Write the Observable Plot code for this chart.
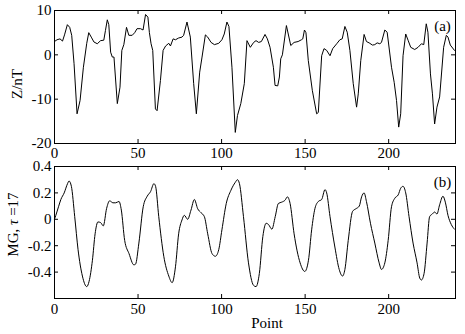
<!DOCTYPE html>
<html><head><meta charset="utf-8">
<script src="https://cdn.jsdelivr.net/npm/d3@7"></script>
<script src="https://cdn.jsdelivr.net/npm/@observablehq/plot@0.6"></script>
<style>
body{margin:0;background:#fff;}
#chart{position:relative;width:465px;height:334px;background:#fff;}
#chart svg{position:absolute;left:0;}
</style></head><body><div id="chart"></div>
<script>
const xTicks = [0, 50, 100, 150, 200];
const zTicks = [-20, -10, 0, 10];
const mgTicks = [-0.4, -0.2, 0, 0.2, 0.4];

const zPoint = [0,1.5,3.3,4.8,6,7.7,9.1,10.3,11.7,13.5,15.3,17.3,19.3,20.5,22,23.6,25.6,27.6,29.5,30.5,31.6,32.5,33.6,34.6,35.6,37.6,39.2,40.3,41.5,43.1,44.5,46.5,48,49.4,51.5,53,54.5,55.9,56.8,57.8,58.8,60.4,61.4,63.4,65,66.5,68.4,69.4,71,72.4,74.3,76.3,77.3,79.3,81.3,83.3,84.9,86.9,88.3,90.3,91.7,93.7,95.7,98.3,100.2,101.6,103.2,104.4,106.2,108.2,109.5,111.5,113.6,115.2,117.2,119.2,120.6,122.2,123.8,126,127.4,129,131,132,133.6,134.6,135.4,136.4,138.8,141.4,143.4,145.8,147.8,148.6,149.6,150.5,151.9,154.3,156.9,157.9,159.9,161.3,162.9,164.9,166.5,168.9,170.8,172.2,173.8,175.2,176.8,178.8,180.8,181.8,183.3,185.3,186.7,188.3,190.3,191.7,193.1,194.7,195.7,197.7,199.1,201.7,203.3,204.7,206,207.2,208.6,210.2,211.6,213.2,215.6,217.6,219.6,221,222.5,223.5,225,226.2,227.5,228.9,230.5,232.9,234.5,235.5,236.9,239.4];
const zValue = [3.0,3.4,3.6,3.1,4.5,6.8,6.2,4.4,-2,-13.3,-10.3,-2.8,2.6,5.0,4.0,2.9,2.5,3.2,3.3,5.5,7.9,6.8,0.6,-0.5,-0.5,-11,-7.3,1,2.3,6.2,4.4,4.4,5,5.9,5.9,5.6,9.1,8.5,5,2.5,1,-12.2,-12.6,-5.8,1,2,2.6,2,3.6,3.4,3.8,4,4.4,7.4,4,-6.5,-13.3,-3.9,-0.5,4.5,4,2.8,2.3,2.6,3.4,4.7,7.4,6.4,-2.8,-17.5,-13.7,-11,-6.5,3.2,1.7,2.8,3.2,2.8,3,4.6,3.6,1.7,-2.8,-6.9,-7,-5,-0.9,0,6.6,2.1,2.8,3,3.4,3.6,5.6,5.0,-1.3,-8,-13.3,-13,-0.2,1.4,1,-0.2,1.4,2.5,3.4,3.6,6.4,5.1,1,-6.5,-11.8,-8.8,-1.3,4.6,3,2.7,2.2,2.3,2.7,2.5,2.8,5.6,5.1,-2.8,-6.2,-10.3,-16.3,-13.3,-0.2,4.7,3.3,1.7,1.2,1.7,2.5,2.3,7,5.1,-4.3,-8.8,-15.6,-11.8,-9.5,1.7,4.4,4,2.2,1];

const mgPoint = [0,0.8,2.4,3.8,5.8,7.8,8.7,10.1,12.1,14.1,16.7,19.3,20.7,22.7,24.3,26,27.6,29.2,31.2,33,35,36.6,38.6,40,42,44.6,47.5,48.5,50.5,53.1,55.5,57.5,59.5,60.5,62.4,65.4,68.4,70.4,72.4,74.3,76.3,77.7,79.7,81.7,83.7,85.7,87.7,89.7,91.7,94.3,96.3,98.3,100.2,102.8,105.6,108.2,109.5,110.7,113.1,116.1,119.1,120.6,122.6,124.7,126.7,128.1,130.1,132.1,134,136,138,139.4,141,143.4,147,149.8,152,153.9,155.9,157.9,159.9,161.9,162.9,164.9,167.8,170.4,172.4,173.8,175.8,178.4,180.4,182.4,183.8,185.3,186.7,189.1,191.7,194.3,195.7,197.7,199.7,201.7,203.7,205.7,207.2,208.6,210.2,212.2,214.6,217,218.6,219.6,221.2,223,224.5,226.1,227.5,228.9,230.5,232.5,233.9,235.5,237.5,239.4];
const mgValue = [0.0,0.03,0.095,0.15,0.2,0.27,0.29,0.25,0.02,-0.23,-0.43,-0.51,-0.47,-0.31,-0.11,-0.02,-0.025,-0.05,0.083,0.14,0.125,0.125,0.135,0.07,-0.16,-0.26,-0.345,-0.34,-0.18,0.095,0.175,0.21,0.27,0.25,0.02,-0.28,-0.43,-0.48,-0.36,-0.11,-0.005,0.03,0.0,0.07,0.15,0.08,0.05,0.02,-0.11,-0.26,-0.28,-0.23,-0.08,0.12,0.22,0.28,0.3,0.27,0.02,-0.33,-0.5,-0.51,-0.41,-0.13,-0.03,-0.04,-0.075,0.02,0.12,0.13,0.145,0.17,0.12,-0.11,-0.33,-0.395,-0.31,-0.08,0.083,0.135,0.15,0.225,0.2,0.02,-0.21,-0.38,-0.43,-0.38,-0.16,0.06,0.08,0.1,0.17,0.2,0.135,-0.03,-0.18,-0.33,-0.38,-0.33,-0.16,0.095,0.16,0.185,0.235,0.25,0.2,0.02,-0.18,-0.33,-0.445,-0.46,-0.41,-0.18,0.02,0.04,0.055,0.04,0.11,0.175,0.13,0.03,-0.04,-0.075];

const zData = zPoint.map((t, i) => ({t, v: zValue[i]}));
const mgData = mgPoint.map((t, i) => ({t, v: mgValue[i]}));

const FONT = '"Liberation Serif", "Times New Roman", serif';

function panel(o) {
  const W = 465, ml = 54, mr = 10;
  const fw = W - ml - mr, fh = o.height - o.marginTop - o.marginBottom;
  const tl = 4;
  const marks = [
    Plot.line(o.data, {x: "t", y: "v", stroke: "#000", strokeWidth: 1, curve: o.curve}),
    Plot.frame({stroke: "#000", strokeWidth: 1}),
    Plot.tickX(xTicks, {x: d => d, insetTop: fh - tl, stroke: "#000"}),
    Plot.tickX(xTicks, {x: d => d, insetBottom: fh - tl, stroke: "#000"}),
    Plot.tickY(o.yTicks, {y: d => d, insetRight: fw - tl, stroke: "#000"}),
    Plot.tickY(o.yTicks, {y: d => d, insetLeft: fw - tl, stroke: "#000"}),
    Plot.axisX(xTicks, {tickSize: 0, tickPadding: o.xPad, tickFormat: d => String(d), label: null}),
    Plot.axisY(o.yTicks, {tickSize: 0, tickPadding: 3, tickFormat: d => String(d), label: null}),
    Plot.text([o.yLabel], {text: d => d, frameAnchor: "left", dx: o.ylDx, dy: o.ylDy, rotate: -90, textAnchor: "middle", lineAnchor: "middle", fill: "#000"}),
    Plot.text([o.tag], {text: d => d, frameAnchor: "top-right", dx: -13, dy: 16, textAnchor: "middle", lineAnchor: "middle", fill: "#000"})
  ];
  if (o.xLabel) marks.push(Plot.text([o.xLabel], {text: d => d, frameAnchor: "bottom", dx: 12, dy: 25, textAnchor: "middle", lineAnchor: "middle", fill: "#000"}));
  return Plot.plot({
    width: W, height: o.height, marginLeft: ml, marginRight: mr, marginTop: o.marginTop, marginBottom: o.marginBottom,
    style: {fontFamily: FONT, fontSize: "15px", background: "transparent", color: "#000", overflow: "visible"},
    x: {domain: [0, 240], label: null},
    y: {domain: o.yDomain, label: null},
    marks
  });
}

const top1 = panel({height: 160, marginTop: 10, marginBottom: 17, yDomain: [-20, 10], yTicks: zTicks, data: zData, curve: "linear", yLabel: "Z/nT", tag: "(a)", xPad: 4, ylDx: -37, ylDy: 7});
const bot = panel({height: 174, marginTop: 6, marginBottom: 36, yDomain: [-0.6, 0.4], yTicks: mgTicks, data: mgData, curve: "monotone-x", yLabel: "MG, τ =17", tag: "(b)", xPad: 5, ylDx: -41, ylDy: -8, xLabel: "Point"});
top1.style.top = "0px";
bot.style.top = "160px";
const chart = document.getElementById("chart");
chart.appendChild(top1);
chart.appendChild(bot);

// italic tau
bot.querySelectorAll("text").forEach(t => {
  if (t.textContent === "MG, τ =17") {
    t.textContent = "";
    const ns = "http://www.w3.org/2000/svg";
    const parts = [["MG, ", null], ["τ", "italic"], [" =17", null]];
    for (const [s, st] of parts) {
      const ts = document.createElementNS(ns, "tspan");
      ts.textContent = s;
      if (st) ts.setAttribute("font-style", st);
      t.appendChild(ts);
    }
  }
});
</script></body></html>
